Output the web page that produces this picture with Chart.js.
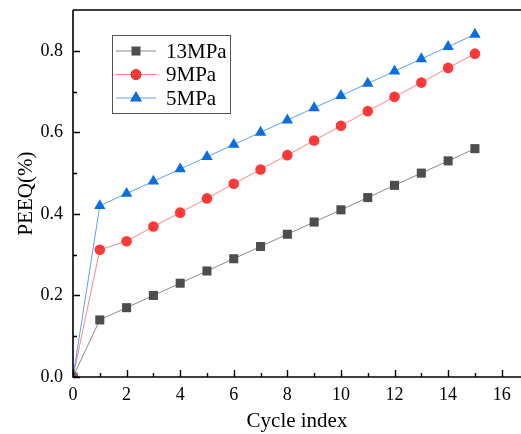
<!DOCTYPE html>
<html>
<head>
<meta charset="utf-8">
<script src="https://cdn.jsdelivr.net/npm/chart.js@4"></script>
<style>
  html, body { margin: 0; padding: 0; background: #fff; }
  #wrap { width: 521px; height: 434px; }
</style>
</head>
<body>
<div id="wrap"><canvas id="c" width="521" height="434"></canvas></div>
<script>

/* data */
let cycles = [0, 1, 2, 3, 4, 5, 6, 7, 8, 9, 10, 11, 12, 13, 14, 15];

let peeq13 = [0, 0.14, 0.17, 0.20, 0.23, 0.26, 0.29, 0.32, 0.35, 0.38, 0.41, 0.44, 0.47, 0.50, 0.53, 0.56];
let peeq9  = [0, 0.312, 0.333, 0.369, 0.403, 0.438, 0.474, 0.509, 0.544, 0.580, 0.616, 0.652, 0.687, 0.722, 0.758, 0.793];
let peeq5  = [0, 0.42, 0.45, 0.48, 0.51, 0.54, 0.57, 0.60, 0.63, 0.66, 0.69, 0.72, 0.75, 0.78, 0.81, 0.84];

let seriesNames = ["13MPa", "9MPa", "5MPa"];

let xTicks = [0, 1, 2, 3, 4, 5, 6, 7, 8, 9, 10, 11, 12, 13, 14, 15, 16];
let yTicks = [0, 0.1, 0.2, 0.3, 0.4, 0.5, 0.6, 0.7, 0.8];

const FONT = "'Liberation Serif', 'Times New Roman', serif";

function toPoints(ys){
   return cycles.map((x, i) => ({x: x, y: ys[i]}));
}

/* axes frame, inward ticks, legend box */
const framePlugin = {
   id: "frame",
   afterDatasetsDraw(chart){
      const ctx = chart.ctx;
      const a = chart.chartArea;
      const xs = chart.scales.x;
      const ys = chart.scales.y;

      ctx.save();
      ctx.strokeStyle = "#000";
      ctx.lineWidth = 1.6;
      ctx.beginPath();
      ctx.moveTo(a.left, a.top);
      ctx.lineTo(a.left, a.bottom);
      ctx.lineTo(a.right, a.bottom);
      ctx.moveTo(a.left, a.top);
      ctx.lineTo(a.right, a.top);
      ctx.stroke();

      ctx.lineWidth = 1.4;
      ctx.beginPath();
      xTicks.forEach(function(v){
         let px = Math.round(xs.getPixelForValue(v)) + 0.5;
         let len = (v % 2 === 0) ? 7 : 4;
         ctx.moveTo(px, a.bottom);
         ctx.lineTo(px, a.bottom - len);
      });
      yTicks.forEach(function(v){
         let py = Math.round(ys.getPixelForValue(v)) + 0.5;
         let len = (Math.round(v * 10) % 2 === 0) ? 7 : 4;
         ctx.moveTo(a.left, py);
         ctx.lineTo(a.left + len, py);
      });
      ctx.stroke();

      /* legend */
      let bx = 112.5, by = 35.5, bw = 118, bh = 78;
      ctx.fillStyle = "#fff";
      ctx.fillRect(bx, by, bw, bh);
      ctx.strokeStyle = "#555";
      ctx.lineWidth = 1;
      ctx.strokeRect(bx, by, bw, bh);

      let rows = [51, 74.5, 98];
      chart.data.datasets.forEach(function(ds, i){
         let y = rows[i];
         ctx.strokeStyle = ds.borderColor;
         ctx.lineWidth = 1;
         ctx.beginPath();
         ctx.moveTo(116, y);
         ctx.lineTo(156, y);
         ctx.stroke();

         Chart.helpers.drawPoint(ctx, {
            pointStyle: ds.pointStyle,
            radius: ds.pointRadius,
            rotation: 0,
            borderWidth: 0
         }, 136, y);
         ctx.fillStyle = ds.pointBackgroundColor;
         ctx.fill();

         ctx.fillStyle = "#000";
         ctx.font = "21px " + FONT;
         ctx.textBaseline = "middle";
         ctx.textAlign = "left";
         ctx.fillText(ds.label, 166, y + 1);
      });
      ctx.restore();
   }
};

new Chart(document.getElementById("c"), {

   type: "line",

   data: {
      datasets: [
         {
            label: seriesNames[0],
            data: toPoints(peeq13),
            borderColor: "#8a8a8a",
            borderWidth: 1,
            pointStyle: "rect",
            pointRadius: 6.4,
            pointBackgroundColor: "#4d4d4d",
            pointBorderWidth: 0,
            order: 3
         },
         {
            label: seriesNames[1],
            data: toPoints(peeq9),
            borderColor: "#ff8585",
            borderWidth: 1,
            pointStyle: "circle",
            pointRadius: 5.3,
            pointBackgroundColor: "#ff3838",
            pointBorderWidth: 0,
            order: 2
         },
         {
            label: seriesNames[2],
            data: toPoints(peeq5),
            borderColor: "#56a2f0",
            borderWidth: 1,
            pointStyle: "triangle",
            pointRadius: 6.6,
            pointBackgroundColor: "#0a6ee0",
            pointBorderWidth: 0,
            order: 1
         }
      ]
   },

   options: {
      responsive: false,
      animation: false,
      clip: 0,
      layout: {
         autoPadding: false,
         padding: { top: 10, right: 0, left: 0, bottom: 0 }
      },
      plugins: {
         legend: { display: false },
         tooltip: { enabled: false }
      },
      scales: {
         x: {
            type: "linear",
            min: 0,
            max: 16.72,
            afterBuildTicks: function(scale){
               scale.ticks = xTicks.map(v => ({value: v}));
            },
            afterFit: function(scale){
               scale.height = 57;
               scale.paddingLeft = 0;
               scale.paddingRight = 0;
            },
            grid: { display: false, drawTicks: false },
            border: { display: false },
            ticks: {
               padding: 7,
               maxRotation: 0,
               autoSkip: false,
               color: "#000",
               font: { family: FONT, size: 18 },
               callback: function(v){ return (v % 2 === 0) ? String(v) : ""; }
            },
            title: {
               display: true,
               text: "Cycle index",
               color: "#000",
               font: { family: FONT, size: 21 },
               padding: { top: 0, bottom: 0 }
            }
         },
         y: {
            min: 0,
            max: 0.9,
            afterBuildTicks: function(scale){
               scale.ticks = yTicks.map(v => ({value: v}));
            },
            afterFit: function(scale){
               scale.width = 73;
               scale.paddingTop = 0;
               scale.paddingBottom = 0;
            },
            grid: { display: false, drawTicks: false },
            border: { display: false },
            ticks: {
               padding: 10,
               autoSkip: false,
               color: "#000",
               font: { family: FONT, size: 18 },
               callback: function(v){
                  return (Math.round(v * 10) % 2 === 0) ? v.toFixed(1) : "";
               }
            },
            title: {
               display: true,
               text: "PEEQ(%)",
               color: "#000",
               font: { family: FONT, size: 21 },
               padding: { top: 14, bottom: 0 }
            }
         }
      }
   },

   plugins: [framePlugin]

});

</script>
</body>
</html>
